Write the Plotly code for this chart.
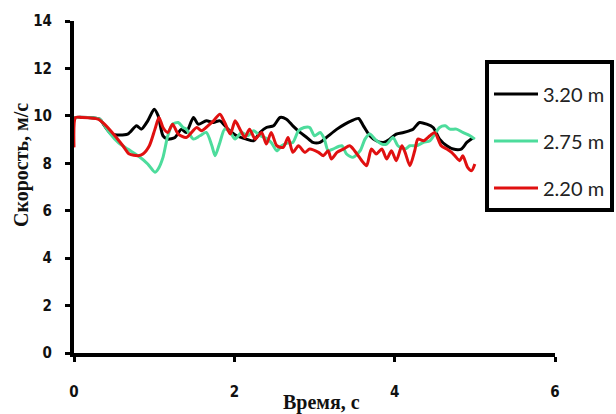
import plotly.graph_objects as go

# ---- data ----
t_320 = [0, 0.03, 0.32, 0.38, 0.47, 0.67, 0.78, 0.84, 0.92, 1.0, 1.05, 1.11, 1.17, 1.26, 1.34,
         1.40, 1.49, 1.55, 1.65, 1.74, 1.82, 1.92, 2.03, 2.15, 2.24, 2.32, 2.40, 2.49, 2.57,
         2.65, 2.73, 2.82, 2.90, 2.98, 3.07, 3.15, 3.28, 3.38, 3.46, 3.55, 3.61, 3.69, 3.77,
         3.86, 3.94, 4.02, 4.11, 4.18, 4.23, 4.31, 4.40, 4.48, 4.56, 4.65, 4.73, 4.83, 4.90, 4.98]
v_320 = [9.90, 9.93, 9.86, 9.58, 9.23, 9.23, 9.58, 9.44, 9.79, 10.28, 10.00, 9.16, 9.02, 9.09, 9.44,
         9.30, 9.93, 9.65, 9.79, 9.72, 9.79, 9.44, 9.16, 9.02, 8.95, 9.30, 9.51, 9.58, 9.93,
         9.86, 9.58, 9.30, 9.10, 8.88, 8.88, 9.09, 9.44, 9.65, 9.79, 9.89, 9.58, 9.16, 8.95,
         8.88, 9.02, 9.23, 9.30, 9.37, 9.44, 9.72, 9.65, 9.51, 9.02, 8.74, 8.60, 8.60, 8.88, 9.09]

t_275 = [0, 0.03, 0.32, 0.38, 0.45, 0.55, 0.67, 0.80, 0.92, 1.01, 1.05, 1.11, 1.17, 1.23, 1.30,
         1.36, 1.40, 1.49, 1.57, 1.65, 1.72, 1.76, 1.82, 1.88, 1.95, 2.01, 2.09, 2.17, 2.24,
         2.32, 2.40, 2.46, 2.53, 2.59, 2.66, 2.73, 2.80, 2.87, 2.94, 3.00, 3.07, 3.12, 3.17,
         3.23, 3.34, 3.40, 3.48, 3.57, 3.63, 3.69, 3.76, 3.84, 3.90, 3.98, 4.04, 4.13, 4.19,
         4.27, 4.36, 4.44, 4.50, 4.56, 4.63, 4.69, 4.77, 4.85, 4.94, 5.00]
v_275 = [9.90, 9.93, 9.86, 9.60, 9.25, 8.88, 8.60, 8.32, 7.97, 7.62, 7.76, 8.25, 9.16, 9.65, 9.72,
         9.51, 9.44, 9.02, 9.16, 9.30, 8.74, 8.32, 8.88, 9.44, 9.30, 9.02, 9.30, 9.16, 9.37,
         9.16, 9.05, 8.88, 8.53, 8.74, 8.85, 8.88, 9.37, 9.51, 9.51, 9.16, 9.30, 9.05, 8.53,
         8.60, 8.74, 8.39, 8.25, 8.53, 9.02, 9.23, 9.00, 8.81, 8.81, 9.09, 8.74, 8.60, 8.74,
         8.74, 8.88, 8.95, 9.23, 9.51, 9.58, 9.44, 9.44, 9.30, 9.16, 9.02]

t_220 = [0, 0.02, 0.09, 0.30, 0.38, 0.51, 0.61, 0.69, 0.80, 0.86, 0.94, 1.01, 1.06, 1.11, 1.17,
         1.23, 1.30, 1.40, 1.53, 1.59, 1.67, 1.74, 1.82, 1.88, 1.95, 2.01, 2.07, 2.13, 2.19,
         2.26, 2.34, 2.40, 2.46, 2.53, 2.61, 2.67, 2.73, 2.80, 2.88, 2.94, 3.05, 3.11, 3.17,
         3.21, 3.28, 3.36, 3.44, 3.50, 3.59, 3.65, 3.71, 3.77, 3.84, 3.90, 3.96, 4.02, 4.09,
         4.13, 4.19, 4.25, 4.29, 4.36, 4.44, 4.50, 4.58, 4.65, 4.71, 4.75, 4.81, 4.85, 4.91,
         4.96, 5.00]
v_220 = [8.67, 9.93, 9.93, 9.86, 9.65, 9.16, 8.74, 8.39, 8.32, 8.39, 8.74, 9.44, 9.93, 9.51, 9.30,
         9.65, 9.23, 9.09, 9.51, 9.37, 9.58, 9.79, 10.07, 9.72, 9.23, 9.79, 9.44, 9.09, 9.44,
         9.02, 9.30, 8.81, 9.30, 8.74, 8.67, 9.09, 8.46, 8.74, 8.46, 8.60, 8.46, 8.32, 8.53,
         8.18, 8.46, 8.60, 8.74, 8.53, 8.11, 7.90, 8.60, 8.39, 8.60, 8.18, 8.53, 8.11, 8.74,
         8.46, 7.90, 8.53, 9.02, 8.95, 9.16, 9.30, 8.74, 8.60, 8.46, 8.32, 8.11, 8.32, 7.83,
         7.69, 7.97]

series_names = ["3.20 m", "2.75 m", "2.20 m"]
series_colors = ["#000000", "#4ddc9c", "#e01010"]

x_ticks = [0, 2, 4, 6]
y_ticks = [0, 2, 4, 6, 8, 10, 12, 14]
x_title = "Время, с"
y_title = "Скорость, м/с"

TICK_FONT = dict(family="Liberation Sans Narrow, DejaVu Sans Condensed, Arial Narrow, sans-serif",
                 size=15, color="#111111", weight="bold")
TITLE_FONT = dict(family="Liberation Serif, Times New Roman, serif", size=20, color="#111111",
                  weight="bold")

fig = go.Figure()
for i, (tx, vy) in enumerate([(t_320, v_320), (t_275, v_275), (t_220, v_220)]):
    fig.add_trace(go.Scatter(
        x=tx, y=vy, mode="lines", name=series_names[i], legendgroup=series_names[i],
        line=dict(color=series_colors[i], width=3, shape="spline", smoothing=0.7),
    ))

fig.update_layout(
    width=616, height=414,
    margin=dict(l=74, r=61, t=21, b=61, autoexpand=False),
    paper_bgcolor="white", plot_bgcolor="white",
    showlegend=True,
    legend=dict(
        xref="container", yref="container", x=485 / 616, y=1 - 60 / 414,
        xanchor="left", yanchor="top",
        bordercolor="black", borderwidth=4, bgcolor="white",
        font=dict(family="Lato, Open Sans, sans-serif", size=20, color="#222222"),
        title=dict(text=" ", font=dict(size=8)),
        tracegroupgap=18, itemwidth=44, entrywidth=170,
    ),
    annotations=[
        dict(text=y_title, xref="paper", yref="paper", x=(22 - 74) / 481, y=(353 - 165) / 332,
             xanchor="center", yanchor="middle", textangle=-90, showarrow=False, font=TITLE_FONT),
        dict(text=x_title, xref="paper", yref="paper", x=(321.5 - 74) / 481, y=(353 - 402) / 332,
             xanchor="center", yanchor="middle", showarrow=False, font=TITLE_FONT),
    ],
)
fig.update_xaxes(range=[0, 6], tickvals=x_ticks, showgrid=False, zeroline=False,
                 showline=True, linecolor="black", linewidth=4,
                 ticks="outside", ticklen=5, tickwidth=3, tickcolor="black",
                 tickfont=TICK_FONT, ticklabelstandoff=17)
fig.update_yaxes(range=[0, 14], tickvals=y_ticks, showgrid=False, zeroline=False,
                 showline=True, linecolor="black", linewidth=4,
                 ticks="outside", ticklen=5, tickwidth=3, tickcolor="black",
                 tickfont=TICK_FONT, ticklabelstandoff=10)

fig.write_html("out.html")
